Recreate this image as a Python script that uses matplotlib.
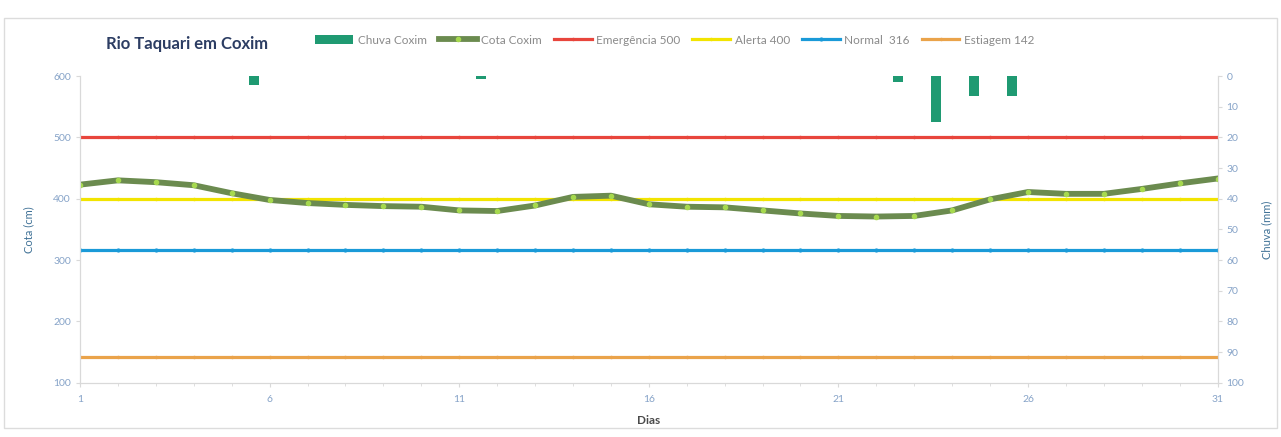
import matplotlib.pyplot as plt
import matplotlib.patches as mpatches
from matplotlib.ticker import MultipleLocator

plt.rcParams['font.family'] = ['Lato', 'DejaVu Sans']

# define data
dias = list(range(1, 32))
cota = [423, 430, 427, 422, 409, 398, 393, 390, 388, 387, 381, 380, 389, 403, 405,
        391, 387, 386, 381, 376, 372, 371, 372, 381, 399, 411, 408, 408, 416, 425, 433]
chuva_dias = [5, 11, 22, 23, 24, 25]
chuva = [3, 1, 2, 15, 6.5, 6.5]
emergencia = 500
alerta = 400
normal = 316
estiagem = 142

# colors
c_chuva = '#1f9a72'
c_cota = '#6b8b4f'
c_cota_mk = '#a6d94e'
c_emerg = '#e8453c'
c_alerta = '#f2e400'
c_normal = '#1a9ad8'
c_estiag = '#eaa34a'
c_tick = '#86a3c8'
c_axis = '#d9d9d9'

fig = plt.figure(figsize=(12.81, 4.37), dpi=100)
ax = fig.add_axes([0.0625, 0.124, 0.888, 0.702])
ax2 = ax.twinx()

# lines on primary axis
ax.plot(dias, [emergencia] * len(dias), color=c_emerg, lw=2.3,
        marker='o', ms=1.5, label='Emergência 500')
ax.plot(dias, [alerta] * len(dias), color=c_alerta, lw=2.3,
        marker='o', ms=1.5, label='Alerta 400')
ax.plot(dias, [normal] * len(dias), color=c_normal, lw=2.3,
        marker='o', ms=2, label='Normal  316')
ax.plot(dias, [estiagem] * len(dias), color=c_estiag, lw=2.3,
        marker='o', ms=1.5, label='Estiagem 142')
ax.plot(dias, cota, color=c_cota, lw=4.2, marker='o', ms=3,
        mfc=c_cota_mk, mec=c_cota_mk, label='Cota Coxim', zorder=5)

# rain bars on secondary (inverted) axis
bar_x = [d + 0.58 for d in chuva_dias]
ax2.bar(bar_x, chuva, width=0.26, color=c_chuva, label='Chuva Coxim')

ax.set_xlim(1, 31)
ax.set_ylim(100, 600)
ax2.set_ylim(100, 0)

ax.set_xticks([1, 6, 11, 16, 21, 26, 31])
ax.xaxis.set_minor_locator(MultipleLocator(1))
ax.yaxis.set_major_locator(MultipleLocator(100))
ax2.yaxis.set_major_locator(MultipleLocator(10))

for a in (ax, ax2):
    for s in a.spines.values():
        s.set_color(c_axis)
        s.set_linewidth(0.8)
    a.spines['top'].set_visible(False)
    a.tick_params(colors=c_axis, labelcolor=c_tick, labelsize=7.5,
                  length=3, width=0.8)
ax.tick_params(axis='x', which='minor', colors=c_axis, length=2)
ax.tick_params(axis='x', pad=6)

ax.set_xlabel('Dias', fontsize=8.5, fontweight='bold', color='#4a4a4a', labelpad=8)
ax.set_ylabel('Cota (cm)', fontsize=8, color='#3f7196', labelpad=14)
ax2.set_ylabel('Chuva (mm)', fontsize=8, color='#3f7196', labelpad=12)

# title and legend
fig.text(187 / 1281, 1 - 44 / 437, 'Rio Taquari em Coxim', fontsize=12,
         fontweight='bold', color='#2c3d63', ha='center', va='center')

h1, l1 = ax2.get_legend_handles_labels()
h2, l2 = ax.get_legend_handles_labels()
order = [4, 0, 1, 2, 3]
handles = h1 + [h2[i] for i in order]
labels = l1 + [l2[i] for i in order]
leg = fig.legend(handles, labels, loc='center', ncol=6, frameon=False,
                 bbox_to_anchor=(675 / 1281, 1 - 40 / 437), fontsize=8.5,
                 handlelength=3.2, columnspacing=1.0, handletextpad=0.4)
for t in leg.get_texts():
    t.set_color('#8a8a8a')

# light frame around the chart area
fig.patches.append(mpatches.Rectangle((4 / 1281, 9 / 437), 1273 / 1281, 410 / 437,
                                      transform=fig.transFigure, fill=False,
                                      edgecolor='#dcdcdc', lw=1))

fig.savefig('out.png', dpi=100)
